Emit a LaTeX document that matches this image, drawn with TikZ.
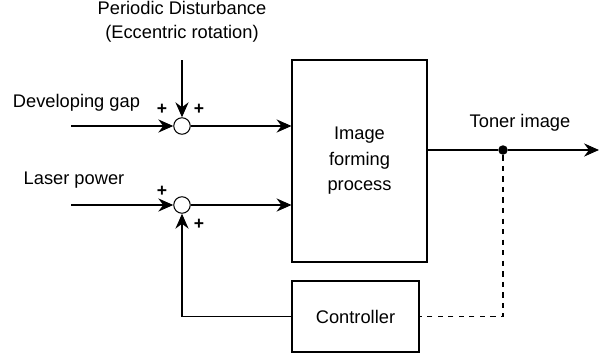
\documentclass[tikz,border=0pt]{standalone}
\usepackage{fontspec}
\setmainfont{Liberation Sans}
\usetikzlibrary{arrows.meta}

\begin{document}
\begin{tikzpicture}[
   font=\fontsize{10.4}{12.5}\selectfont,
   line width=0.6pt,
   >={Stealth[length=8.5pt,width=7.5pt,inset=2.8pt]},
   block/.style={draw, rectangle, inner sep=0pt},
   sum/.style={draw, circle, minimum size=0.33cm, inner sep=0pt},
   tap/.style={fill, circle, minimum size=0.19cm, inner sep=0pt},
   sign/.style={font=\fontsize{10}{10}\selectfont\bfseries, inner sep=0pt}
  ]
  \useasboundingbox (0,0) rectangle (12,7.12);
  % blocks
  \node [block, minimum width=2.70cm, minimum height=4.04cm, align=center] (proc) at (7.19,3.90) {Image\\[2pt]forming\\[2pt]process};
  \node [block, minimum width=2.54cm, minimum height=1.42cm] (ctrl) at (7.11,0.79) {Controller};
  % summing points
  \node [sum] (sumgap) at (3.64,4.60) {};
  \node [sum] (sumlaser) at (3.64,3.02) {};
  \node [tap] (tap) at (10.06,4.12) {};
  % free ends
  \coordinate (gapin) at (1.42,4.60);
  \coordinate (laserin) at (1.42,3.02);
  \coordinate (distin) at (3.64,5.92);
  \coordinate (out) at (11.98,4.12);
  % labels
  \node [align=center] (distlabel) at (3.64,6.68) {Periodic Disturbance\\[1pt](Eccentric rotation)};
  \node (gaplabel) at (1.53,5.06) {Developing gap};
  \node (laserlabel) at (1.48,3.52) {Laser power};
  \node (tonerlabel) at (10.40,4.66) {Toner image};
  \node [sign] at (3.24,4.94) {+};
  \node [sign] at (3.98,4.94) {+};
  \node [sign] at (3.24,3.30) {+};
  \node [sign] at (3.98,2.64) {+};
  % connectors
  \draw [->] (gapin) -- (sumgap);
  \draw [->] (distin) -- (sumgap);
  \draw [->] (sumgap) -- (sumgap -| proc.west);
  \draw [->] (laserin) -- (sumlaser);
  \draw [->] (sumlaser) -- (sumlaser -| proc.west);
  \draw [->] (proc.east |- tap) -- (tap) -- (out);
  \draw [dashed] (tap) |- (ctrl.east);
  \draw [->] (ctrl.west) -| (sumlaser);
\end{tikzpicture}
\end{document}
